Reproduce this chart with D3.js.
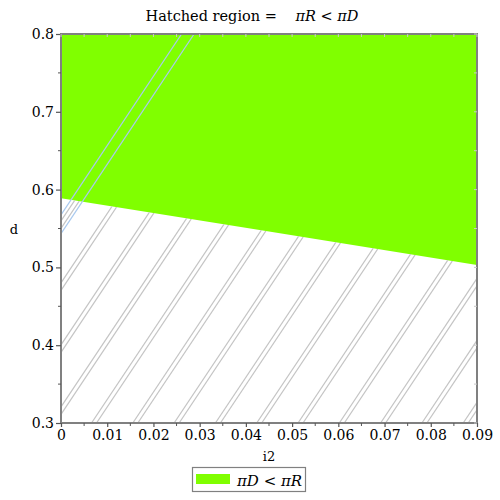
<!DOCTYPE html>
<html><head><meta charset="utf-8">
<script src="https://cdn.jsdelivr.net/npm/d3@7"></script>
<style>body{margin:0;background:#fff}text{font-family:"DejaVu Serif",serif}</style>
</head><body><svg id="c" width="500" height="500"></svg>
<script>
// Data
const i2Domain = [0, 0.09];
const dDomain = [0.3, 0.8];
const boundaryI2 = [0, 0.045, 0.09];
const boundaryD = [0.589, 0.546, 0.503];
const xTicks = [0, 0.01, 0.02, 0.03, 0.04, 0.05, 0.06, 0.07, 0.08, 0.09];
const yTicks = [0.3, 0.4, 0.5, 0.6, 0.7, 0.8];
const titleText = "Hatched region = ";
const titleExpr = "πR < πD";
const legendLabel = "πD < πR";
const xLabel = "i2", yLabel = "d";

const svg = d3.select("#c");
const L = 61, R = 477, T = 34, B = 423;
const x = d3.scaleLinear(i2Domain, [L, R]);
const y = d3.scaleLinear(dDomain, [B, T]);
const pts = boundaryI2.map((v, i) => ({i2: v, d: boundaryD[i]}));

// green region
const area = d3.area().x(d => x(d.i2)).y0(d => y(d.d)).y1(y(0.8));
svg.append("path").datum(pts).attr("d", area).attr("fill", "#80ff00");

// clip for hatch (below boundary)
const below = d3.area().x(d => x(d.i2)).y0(d => y(d.d)).y1(y(0.3));
svg.append("clipPath").attr("id", "hb").append("path").datum(pts).attr("d", below);
svg.append("clipPath").attr("id", "pa").append("rect").attr("x", L).attr("y", T).attr("width", R - L).attr("height", B - T);

const slope = 1.5, step = 41.3, x0 = 94;
const rise = (B - T) / slope;
const hg = svg.append("g").attr("clip-path", "url(#hb)");
for (let k = -8; k <= 10; k++) {
  const c = x0 + step * k;
  [-2.5, 2.5].forEach(o => {
    hg.append("line").attr("x1", c + o).attr("y1", B).attr("x2", c + o + rise).attr("y2", T)
      .attr("stroke", "#c4c4c4").attr("stroke-width", 1.2);
  });
}
const bg = svg.append("g").attr("clip-path", "url(#pa)");
const cb = x0 + step * -4;
[-6.5, 6].forEach(o => {
  bg.append("line").attr("x1", cb + o).attr("y1", B).attr("x2", cb + o + rise).attr("y2", T)
    .attr("stroke", "#a9c9ee").attr("stroke-width", 1.2);
});

// frame
svg.append("rect").attr("x", L).attr("y", T).attr("width", R - L).attr("height", B - T)
  .attr("fill", "none").attr("stroke", "#808080").attr("stroke-width", 2);

// axes
const xMinor = d3.range(0.005, 0.09, 0.01);
const yMinor = d3.range(0.35, 0.8, 0.1);
const xa = svg.append("g").attr("transform", `translate(0,${B})`)
  .call(d3.axisBottom(x).tickValues(xTicks).tickSize(4).tickSizeOuter(0).tickFormat(d => d === 0 ? "0" : d3.format(".2f")(d)));
const ya = svg.append("g").attr("transform", `translate(${L},0)`)
  .call(d3.axisLeft(y).tickValues(yTicks).tickSize(5).tickSizeOuter(0).tickFormat(d3.format(".1f")));
[xa, ya].forEach(g => {
  g.select(".domain").remove();
  g.selectAll("line").attr("stroke", "#555").attr("stroke-width", 1.2);
  g.selectAll("text").attr("font-size", 14).attr("font-family", "DejaVu Serif").attr("fill", "#000");
});
xa.selectAll("text").attr("dy", "0.85em").attr("y", 5);
ya.selectAll("text").attr("x", -7);
xMinor.forEach(v => svg.append("line").attr("x1", x(v)).attr("x2", x(v)).attr("y1", B).attr("y2", B + 3).attr("stroke", "#555"));
yMinor.forEach(v => svg.append("line").attr("y1", y(v)).attr("y2", y(v)).attr("x1", L).attr("x2", L - 3).attr("stroke", "#555"));
// inner ticks top/right
xTicks.concat(xMinor).forEach(v => svg.append("line").attr("x1", x(v)).attr("x2", x(v)).attr("y1", T).attr("y2", T + 3).attr("stroke", "#c8c8c8"));
yTicks.concat(yMinor).forEach(v => svg.append("line").attr("y1", y(v)).attr("y2", y(v)).attr("x1", R).attr("x2", R - 3).attr("stroke", "#c8c8c8"));

// labels
svg.append("text").attr("x", 269).attr("y", 461).attr("text-anchor", "middle").attr("font-size", 13).text(xLabel);
svg.append("text").attr("x", 14).attr("y", 234).attr("text-anchor", "middle").attr("font-size", 13).text(yLabel);

// title
const t = svg.append("text").attr("x", 252).attr("y", 21).attr("text-anchor", "middle").attr("font-size", 14.5);
t.append("tspan").text(titleText);
t.append("tspan").attr("dx", 14).attr("font-style", "italic").text(titleExpr);

// legend
svg.append("rect").attr("x", 192.5).attr("y", 467.5).attr("width", 113).attr("height", 24)
  .attr("fill", "#fff").attr("stroke", "#808080").attr("stroke-width", 1.2);
svg.append("rect").attr("x", 196).attr("y", 474).attr("width", 34).attr("height", 10).attr("fill", "#80ff00");
svg.append("text").attr("x", 237).attr("y", 486).attr("font-size", 15).attr("font-style", "italic").text(legendLabel);
</script></body></html>
